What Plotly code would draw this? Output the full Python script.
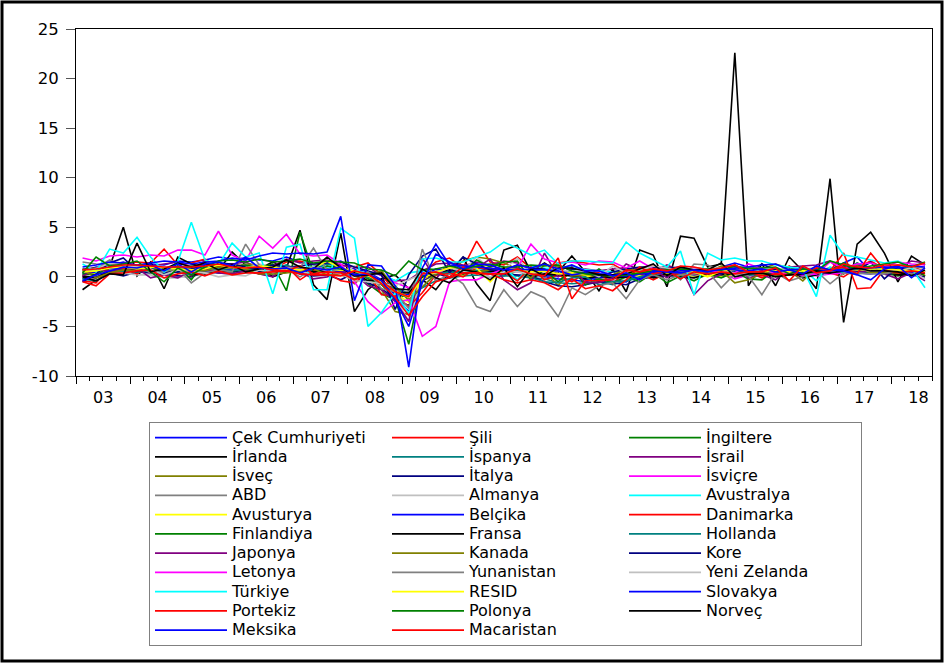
import plotly.graph_objects as go
import pandas as pd

# ---------------- data (quarterly, 2003Q1 .. 2018Q3) ----------------
quarters = [f"{y}Q{q}" for y in range(2003, 2019) for q in range(1, 5)][:63]

cek = [0.6,1.0,1.2,1.5, 1.1,1.3,1.2,1.6, 1.5,1.7,2.0,1.8, 1.9,1.7,1.6,2.0, 1.5,1.3,1.4,1.6, 0.8,0.5,-0.3,-2.0, -3.5,0.0,0.6,0.9, 0.8,1.3,0.6,0.4, 0.9,0.3,0.0,-0.2, -0.3,-0.5,-0.2,-0.4, -0.5,0.3,0.4,0.6, 0.7,0.5,0.6,1.0, 1.4,1.0,0.6,0.5, 0.6,0.7,0.3,0.7, 1.4,2.0,0.5,0.6, 0.4,0.7,0.5]
sili = [0.8,0.9,1.2,1.3, 1.5,1.4,2.8,1.2, 1.4,1.8,0.8,1.3, 1.0,1.2,0.8,1.5, 1.6,1.2,0.9,1.2, 1.0,1.4,0.2,-1.5, -1.8,0.3,1.5,1.9, 0.9,3.6,1.5,1.2, 2.0,0.9,0.6,1.4, 1.6,1.4,1.2,1.3, 0.5,0.9,1.1,0.6, 0.7,0.1,0.6,0.4, 1.2,0.4,0.6,0.3, 1.1,0.2,0.5,0.4, 0.0,0.9,1.6,0.8, 1.2,1.1,0.5]
ingiltere = [0.7,0.9,1.0,1.1, 0.8,1.0,0.5,0.6, 1.1,0.7,0.8,1.1, 0.7,0.5,0.6,0.9, 0.8,0.7,0.6,0.5, 0.3,-0.7,-1.7,-2.3, -1.7,-0.2,0.2,0.4, 0.6,1.0,0.6,0.1, 0.6,0.2,0.4,0.1, 0.3,-0.1,0.8,-0.1, 0.6,0.6,0.8,0.5, 0.9,0.8,0.7,0.8, 0.4,0.5,0.4,0.7, 0.2,0.6,0.5,0.7, 0.4,0.3,0.5,0.4, 0.1,0.4,0.6]
irlanda = [-1.3,-0.3,1.0,5.0, 0.1,1.5,-1.2,2.0, 1.3,1.0,0.6,2.5, 1.2,0.8,1.5,0.9, 4.7,-0.8,-2.3,4.4, -3.5,-1.3,-0.2,0.2, -1.2,-0.3,-1.3,0.5, 2.0,-0.7,-2.4,2.7, 3.2,0.5,1.4,0.5, 2.1,0.5,-1.4,0.8, -1.5,2.7,2.2,-1.0, 4.1,3.9,1.0,1.3, 22.6,-0.9,1.3,-0.9, 2.0,0.6,-1.2,9.9, -4.6,3.3,4.5,2.4, -0.5,2.1,1.2]
ispanya = [0.8,0.7,0.8,0.9, 0.8,0.7,0.8,0.9, 0.9,0.9,0.9,0.9, 1.0,1.0,0.9,1.0, 0.9,0.9,0.8,0.7, 0.4,0.0,-0.7,-1.2, -1.6,-1.1,-0.4,-0.1, 0.1,0.2,0.0,0.1, 0.1,-0.1,-0.2,-0.6, -0.7,-0.6,-0.5,-0.8, -0.4,-0.1,0.1,0.2, 0.4,0.5,0.6,0.7, 0.9,1.0,0.8,0.8, 0.6,0.8,0.8,0.7, 0.7,0.8,0.7,0.7, 0.6,0.6,0.6]
israil = [0.2,0.6,0.9,1.4, 1.2,1.1,1.3,1.5, 1.0,1.4,1.2,1.3, 1.5,0.9,1.1,1.8, 1.4,1.6,1.7,1.2, 0.9,1.0,0.1,-0.4, -0.3,0.6,1.3,1.4, 1.1,1.5,1.2,1.6, 1.4,0.8,0.6,1.1, 0.7,0.8,0.6,0.8, 0.9,0.6,0.5,1.2, 0.6,0.4,0.6,0.9, 0.5,0.6,0.7,0.6, 1.0,1.1,1.2,1.6, 0.3,1.2,0.9,1.0, 1.0,1.6,1.4]
isvec = [0.5,0.6,0.9,0.9, 1.1,1.0,0.7,0.8, 0.7,0.9,1.1,1.0, 1.3,1.2,1.1,1.0, 0.9,0.7,0.6,0.4, 0.1,-0.2,-1.3,-3.5, -3.8,-0.4,0.2,0.5, 1.6,2.0,1.8,1.4, 0.8,0.4,0.6,-0.9, 0.8,0.3,-0.3,-0.2, 0.5,0.4,0.3,0.9, 0.3,0.6,0.5,1.1, 1.0,0.9,0.8,1.3, 0.9,0.5,0.6,0.9, 0.3,1.4,0.7,0.7, 0.7,0.9,0.1]
italya = [-0.2,0.0,0.4,0.1, 0.5,0.4,0.2,0.1, 0.0,0.5,0.4,0.3, 0.8,0.5,0.3,0.9, 0.3,0.1,0.2,-0.3, 0.4,-0.6,-1.2,-2.2, -2.9,-0.4,0.4,-0.1, 0.6,0.5,0.4,0.3, 0.2,0.1,-0.5,-0.9, -1.0,-0.8,-0.5,-0.6, -0.8,-0.2,0.0,0.1, 0.1,0.0,0.1,0.0, 0.3,0.4,0.3,0.3, 0.4,0.1,0.3,0.4, 0.5,0.4,0.4,0.4, 0.3,0.2,0.0]
isvicre = [0.0,-0.1,0.4,0.6, 0.7,0.6,0.3,0.6, 0.6,0.8,0.8,0.9, 0.8,1.0,0.7,1.0, 0.9,0.9,1.0,0.8, 0.6,0.4,0.2,-0.6, -1.1,-0.3,0.5,0.8, 0.7,0.8,0.7,0.8, 0.5,0.3,0.3,0.2, 0.5,-0.1,0.6,0.2, 0.4,0.6,0.5,0.2, 0.5,0.3,0.6,0.5, -0.2,0.2,0.3,0.2, 0.5,0.6,0.1,0.3, 0.4,0.5,0.8,0.9, 0.9,0.8,0.2]
abd = [0.4,0.9,1.7,1.1, 0.6,0.8,0.9,1.0, 1.1,0.5,0.8,0.6, 1.3,0.3,0.1,0.8, 0.0,0.8,0.6,0.6, -0.7,0.5,-0.5,-2.1, -1.4,-0.1,0.3,1.0, 0.4,1.0,0.7,0.5, -0.4,0.7,-0.2,1.1, 0.8,0.4,0.1,0.1, 0.9,0.2,0.8,1.0, -0.3,1.3,1.2,0.5, 0.8,0.6,0.4,0.1, 0.6,0.3,0.7,0.5, 0.5,0.7,0.8,0.9, 0.6,1.0,0.9]
almanya = [-0.3,-0.2,0.4,0.4, 0.2,0.2,-0.1,-0.1, 0.2,0.3,0.6,0.2, 1.0,1.3,1.0,1.0, 0.4,0.5,0.6,0.2, 1.1,-0.5,-0.4,-2.1, -4.5,0.2,0.7,0.8, 0.6,2.0,0.8,0.7, 1.9,0.4,0.4,0.1, 0.4,0.1,0.3,-0.3, -0.2,0.7,0.4,0.4, 0.8,-0.1,0.2,0.7, 0.2,0.5,0.3,0.4, 0.6,0.4,0.2,0.4, 0.9,0.6,0.7,0.6, 0.4,0.5,-0.2]
avustralya = [0.6,0.4,1.2,0.9, 0.8,0.6,0.3,0.6, 0.7,0.8,0.7,0.6, 0.4,0.7,0.5,0.8, 0.8,1.1,1.0,0.8, 0.6,0.4,0.3,-0.4, 0.4,0.6,0.4,0.6, 0.5,0.8,0.6,1.0, -0.3,1.1,0.9,0.8, 1.1,0.7,0.6,0.5, 0.6,0.5,0.7,0.5, 1.0,0.5,0.6,0.5, 0.8,0.2,0.9,0.6, 0.9,0.8,-0.4,1.0, 0.4,0.8,0.8,0.5, 1.0,0.8,0.3]
avusturya = [0.2,0.4,0.5,0.6, 0.8,0.6,0.7,0.5, 0.6,0.7,0.8,0.9, 1.0,0.9,0.8,1.1, 0.9,0.8,0.7,0.6, 0.5,0.2,-0.4,-1.6, -2.6,-0.3,0.5,0.4, 0.2,1.1,0.9,0.7, 1.0,0.3,0.1,0.1, 0.4,0.0,0.0,-0.1, 0.1,0.1,0.3,0.2, 0.2,0.1,0.1,0.0, 0.3,0.3,0.5,0.4, 0.5,0.4,0.6,0.7, 0.8,0.7,0.8,0.7, 0.8,0.5,0.3]
belcika = [0.3,0.5,0.9,0.8, 0.7,0.8,0.6,0.9, 0.4,0.6,0.7,0.8, 0.8,0.7,0.6,0.8, 0.8,0.7,0.6,0.5, 0.4,0.1,-0.4,-1.8, -1.8,0.1,0.8,0.6, 0.5,1.0,0.6,0.6, 0.9,0.3,0.1,0.1, 0.3,-0.3,0.0,-0.1, 0.0,0.3,0.3,0.3, 0.4,0.2,0.4,0.3, 0.5,0.4,0.3,0.4, 0.2,0.5,0.3,0.5, 0.6,0.4,0.3,0.6, 0.4,0.4,0.5]
danimarka = [-0.4,-0.6,1.0,0.9, 0.3,1.2,0.4,0.8, 0.1,1.7,1.0,1.3, 0.6,0.3,0.4,1.1, -0.3,0.6,0.4,-0.4, -0.6,0.4,-1.8,-1.9, -3.0,-1.6,0.2,0.4, 0.0,0.9,0.8,0.5, -0.4,1.0,-0.3,0.2, -0.5,0.4,0.4,-0.7, 0.6,0.3,-0.3,0.4, 0.2,0.3,0.4,0.5, 0.3,0.5,-0.1,0.5, 0.5,0.6,0.7,0.6, 2.4,-1.2,-1.1,0.8, 0.2,0.9,0.1]
finlandiya = [0.3,0.2,1.0,1.2, 0.9,0.8,0.6,1.1, -0.3,1.5,0.9,1.0, 1.2,0.9,1.3,-1.4, 4.5,0.4,1.1,0.8, 0.6,-0.2,-0.8,-2.2, -6.8,0.0,0.3,0.6, 0.4,1.7,1.0,1.5, 1.6,-0.3,0.7,-0.5, 0.8,-0.8,-0.2,-0.6, 0.0,-0.5,0.4,-0.6, 0.1,-0.4,0.3,-0.1, 0.5,-0.2,-0.3,0.7, 1.0,0.4,0.5,0.6, 1.4,0.8,0.4,0.9, 0.8,0.9,0.1]
fransa = [0.1,-0.1,0.6,0.7, 0.8,0.7,0.4,0.8, 0.2,0.3,0.6,0.5, 0.7,1.1,0.0,0.5, 0.7,0.5,0.6,0.3, 0.4,-0.4,-0.3,-1.6, -1.6,-0.1,0.3,0.7, 0.3,0.6,0.5,0.6, 1.0,0.0,0.3,0.2, 0.1,-0.2,0.1,-0.1, 0.0,0.6,-0.1,0.3, 0.0,-0.1,0.3,0.2, 0.4,0.2,0.4,0.3, 0.6,-0.1,0.2,0.5, 0.7,0.6,0.6,0.7, 0.2,0.2,0.4]
hollanda = [-0.2,-0.4,0.4,0.6, 0.5,0.6,0.3,0.5, 0.2,0.9,0.8,0.6, 0.7,0.9,0.8,1.2, 0.6,0.8,1.3,1.0, 0.3,0.0,-0.6,-0.9, -2.4,-1.0,0.3,0.5, 0.4,0.6,0.4,0.4, 0.7,-0.1,-0.5,-0.6, -0.1,0.0,-0.8,-0.5, -0.4,0.0,0.3,0.5, -0.1,0.6,0.3,0.8, 0.4,0.2,0.2,0.3, 0.5,0.6,0.7,0.7, 0.5,1.4,0.7,0.8, 0.5,0.7,0.5]
japonya = [0.1,0.7,0.6,0.7, 0.9,-0.1,0.2,-0.1, 0.6,0.8,0.4,0.3, 0.6,0.3,0.0,1.0, 0.5,-0.2,0.0,0.5, 0.3,-0.9,-1.3,-2.5, -4.5,1.9,-0.2,1.4, 1.2,0.9,1.8,-0.3, -1.3,-0.6,2.4,0.0, 1.0,-0.6,-0.6,-0.1, 1.3,0.7,0.7,-0.1, 1.0,-1.8,-0.4,0.3, 1.2,-0.1,0.2,-0.3, 0.8,0.1,0.3,0.4, 0.9,0.5,0.6,0.3, -0.2,0.4,-0.4]
kanada = [0.7,-0.1,0.4,0.7, 0.6,1.1,0.8,0.6, 0.6,0.6,1.0,0.9, 0.8,0.3,0.3,0.4, 0.6,0.8,0.2,0.2, -0.2,0.2,0.6,-1.1, -2.3,-1.0,0.3,1.1, 0.9,0.5,0.7,0.9, 0.8,-0.1,1.2,1.1, 0.1,0.2,0.1,0.2, 0.8,0.6,0.9,0.9, 0.2,0.9,0.8,0.6, -0.6,-0.3,0.3,0.1, 0.6,-0.4,1.0,0.5, 0.9,1.1,0.4,0.4, 0.4,0.6,0.5]
kore = [-0.5,0.3,1.4,1.9, 0.6,0.7,0.4,0.5, 0.8,1.2,1.4,1.3, 1.0,0.8,1.2,1.0, 1.1,1.3,1.4,1.5, 1.0,0.6,0.2,-3.3, 0.2,2.1,2.8,0.4, 2.0,1.3,0.7,0.6, 1.2,0.9,0.8,0.3, 0.8,0.4,0.0,0.5, 0.8,1.0,1.0,0.9, 1.0,0.6,0.8,0.3, 0.8,0.3,1.3,0.7, 0.5,0.9,0.5,0.4, 1.1,0.6,1.5,-0.2, 1.0,0.6,0.6]
letonya = [1.9,1.6,2.1,2.2, 2.0,2.2,2.1,2.7, 2.7,2.2,4.6,2.2, 1.6,4.1,2.9,4.3, 2.3,2.1,2.2,1.3, -0.5,-2.5,-3.7,-2.6, -2.3,-6.0,-5.0,-0.5, -0.3,-0.3,0.3,0.8, 0.9,3.3,1.8,1.4, 1.5,1.2,1.6,1.5, 0.9,1.6,0.8,0.7, 0.4,0.9,0.6,0.5, 0.4,1.3,0.8,0.3, 0.4,0.2,0.3,1.5, 0.9,1.3,1.4,1.0, 1.5,1.3,1.2]
yunanistan = [1.5,1.3,1.2,1.0, 1.1,0.4,0.5,0.9, -0.6,0.4,0.7,0.5, 3.3,1.2,0.4,1.0, 0.9,2.9,0.6,0.3, 0.1,0.5,-1.2,-1.5, -3.2,2.8,-0.5,0.3, -0.7,-3.0,-3.5,-1.3, -3.0,-1.5,-2.1,-4.0, -1.1,-1.8,-0.9,-0.6, -2.2,-0.3,0.2,-0.3, 0.2,0.3,0.6,-1.1, 0.3,0.1,-1.8,0.4, -0.4,0.0,0.6,-0.7, 0.4,0.4,0.3,0.3, 0.6,0.3,0.5]
yeni_zelanda = [0.6,0.8,1.4,1.2, 1.0,0.8,0.2,0.7, 0.5,0.4,0.0,0.2, 0.1,0.7,0.5,0.9, 0.7,1.0,0.6,0.3, -0.4,-0.5,-0.7,-0.9, -0.3,0.3,0.4,0.9, 0.6,0.3,0.0,0.5, 0.5,0.3,0.7,0.6, 0.6,0.6,0.0,1.1, 0.4,0.7,1.1,0.9, 0.7,0.8,0.8,0.9, 0.3,0.4,0.9,0.9, 0.7,0.8,0.9,0.5, 0.7,0.8,0.6,0.6, 0.6,0.9,0.5]
turkiye = [1.3,0.5,2.8,2.4, 4.0,2.0,0.5,1.5, 5.5,1.7,1.2,3.4, 2.0,2.4,-1.7,3.0, 3.3,-1.3,-1.3,4.9, 3.9,-5.0,-3.6,-1.6, -3.7,1.8,1.9,1.5, 1.5,2.0,2.5,3.5, 2.9,2.2,2.7,1.3, 1.6,1.6,1.5,1.4, 3.5,2.4,1.7,1.0, 2.6,-1.8,2.4,1.7, 1.9,1.6,1.6,1.2, 1.0,0.8,-2.0,4.2, 2.2,2.0,1.7,1.4, 1.6,0.9,-1.1]
resid = [0.5,0.6,0.9,1.0, 0.8,1.0,0.9,0.8, 0.7,0.8,1.2,1.0, 0.9,1.1,1.0,0.8, 0.7,0.9,1.6,0.9, 0.6,0.1,-0.5,-1.5, -2.0,-0.2,0.5,0.9, 1.0,0.9,-0.5,0.9, 0.8,0.5,0.6,0.3, 0.4,0.2,0.3,0.1, 0.3,0.5,0.6,0.4, 0.6,0.5,0.0,0.6, 0.7,0.6,0.5,0.6, 0.5,0.6,0.6,0.7, 0.8,0.7,0.8,0.8, 0.7,0.6,0.6]
slovakya = [1.0,1.2,1.5,1.4, 1.2,1.4,1.6,1.5, 1.3,1.5,1.6,1.9, 1.7,2.1,2.4,2.3, 2.4,2.3,2.5,6.1, -2.4,1.2,1.1,-0.9, -9.1,0.9,3.3,1.2, 1.1,1.0,0.9,0.7, 0.8,0.7,0.7,0.6, 0.2,0.4,0.3,0.2, 0.1,0.3,0.4,0.5, 0.6,0.7,0.7,0.7, 0.9,1.0,1.2,1.3, 0.7,0.8,0.7,0.6, 0.8,0.8,0.9,1.0, 0.9,1.1,1.0]
portekiz = [-0.5,-0.9,0.3,0.4, 0.6,0.7,-0.1,0.3, 0.5,0.1,0.6,0.2, 0.4,0.4,0.5,0.6, 1.1,0.3,0.5,0.4, -0.3,0.2,-0.4,-1.5, -2.0,0.3,0.5,0.0, 1.0,0.3,0.3,-0.3, -0.6,-0.3,-0.6,-1.3, -0.2,-1.2,-0.9,-1.4, -0.3,1.0,0.3,0.6, -0.2,0.5,0.3,0.5, 0.3,0.5,0.1,0.3, 0.2,0.3,0.9,0.7, 1.0,0.3,2.4,0.7, 0.4,0.6,0.4]
polonya = [0.4,2.0,1.1,1.3, 1.6,0.5,-0.5,0.9, 0.2,1.0,1.6,1.7, 1.5,1.8,1.5,1.6, 1.8,1.4,1.6,1.5, 1.4,0.8,0.7,0.1, 1.6,0.7,0.8,1.1, 0.8,1.1,1.3,1.0, 1.0,1.2,1.1,1.2, 0.6,0.3,0.2,0.1, 0.2,0.4,0.6,0.7, 0.8,0.7,0.8,0.7, 1.1,0.8,0.9,1.0, 0.3,0.8,0.6,1.6, 1.2,0.8,1.1,1.3, 1.5,1.0,1.5]
norvec = [0.0,-0.4,0.3,0.2, 3.4,0.5,0.8,1.4, 1.0,1.4,0.7,1.2, 0.5,0.8,1.0,1.7, 1.0,0.8,2.0,0.9, 0.1,0.2,0.4,-1.2, -1.3,0.8,-0.1,-0.6, 0.7,0.5,-0.3,0.9, -1.0,0.8,0.1,0.9, 0.9,0.6,0.2,0.2, 0.3,0.8,1.3,0.1, 1.0,0.7,0.7,1.4, 0.0,0.3,0.4,0.0, 0.2,0.3,0.6,0.4, 0.6,0.9,0.6,0.6, 0.5,0.1,0.7]
meksika = [-0.4,0.2,0.6,1.0, 0.9,1.2,0.6,1.3, 0.5,1.3,1.5,1.1, 2.0,0.9,0.8,0.9, 0.4,0.9,0.7,1.0, 0.2,0.3,-0.4,-2.3, -5.0,-0.6,2.3,1.5, 0.8,1.3,1.2,0.7, 1.2,0.9,1.3,0.8, 1.2,0.6,0.6,0.1, 0.4,-0.3,0.6,0.5, 0.4,0.7,0.5,0.8, 0.7,0.6,0.8,0.5, 0.7,0.3,1.1,0.7, 0.6,0.2,-0.3,0.8, 1.1,-0.1,0.9]
macaristan = [0.7,0.8,1.0,1.2, 1.2,1.1,1.0,1.0, 1.0,1.1,1.3,1.0, 0.9,1.0,0.7,0.6, 0.3,0.2,0.2,0.1, 0.6,0.3,-0.7,-2.1, -3.9,-2.0,-0.5,-0.1, 0.4,0.4,0.3,0.3, 0.8,0.3,0.1,1.9, -2.2,-0.4,-0.4,-0.3, 0.7,0.5,0.8,0.6, 1.1,1.0,0.7,0.9, 1.2,0.5,0.5,0.9, -0.4,1.1,0.4,0.6, 1.3,1.0,0.9,1.2, 1.2,1.0,1.4]

series_names = ["Çek Cumhuriyeti", "Şili", "İngiltere", "İrlanda", "İspanya", "İsrail",
                "İsveç", "İtalya", "İsviçre", "ABD", "Almanya", "Avustralya",
                "Avusturya", "Belçika", "Danimarka", "Finlandiya", "Fransa", "Hollanda",
                "Japonya", "Kanada", "Kore", "Letonya", "Yunanistan", "Yeni Zelanda",
                "Türkiye", "RESID", "Slovakya", "Portekiz", "Polonya", "Norveç",
                "Meksika", "Macaristan"]
series_values = [cek, sili, ingiltere, irlanda, ispanya, israil, isvec, italya, isvicre,
                 abd, almanya, avustralya, avusturya, belcika, danimarka, finlandiya,
                 fransa, hollanda, japonya, kanada, kore, letonya, yunanistan,
                 yeni_zelanda, turkiye, resid, slovakya, portekiz, polonya, norvec,
                 meksika, macaristan]
series_colors = ["#0000FF", "#FF0000", "#008000", "#000000", "#008080", "#800080",
                 "#808000", "#000080", "#FF00FF", "#808080", "#C0C0C0", "#00FFFF",
                 "#FFFF00", "#0000FF", "#FF0000", "#008000", "#000000", "#008080",
                 "#800080", "#808000", "#000080", "#FF00FF", "#808080", "#C0C0C0",
                 "#00FFFF", "#FFFF00", "#0000FF", "#FF0000", "#008000", "#000000",
                 "#0000FF", "#FF0000"]

y_tick_values = [-10, -5, 0, 5, 10, 15, 20, 25]
y_tick_labels = ["-10", "-5", "0", "5", "10", "15", "20", "25"]

for v in series_values:
    assert len(v) == len(quarters), len(v)

# mid-quarter dates
per = pd.PeriodIndex(quarters, freq="Q")
xdates = (per.start_time + (per.end_time - per.start_time) / 2).strftime("%Y-%m-%d").tolist()

W, H = 944, 663
L, R, T, B = 76, 12, 29, 287
PW, PH = W - L - R, H - T - B

fig = go.Figure()
for name, vals, col in zip(series_names, series_values, series_colors):
    fig.add_trace(go.Scatter(
        x=xdates, y=vals, mode="lines",
        name='<span style="font-size:16px">' + name + '</span>',
        line=dict(color=col, width=1.6)))

fig.update_layout(
    width=W, height=H,
    margin=dict(l=L, r=R, t=T, b=B),
    paper_bgcolor="white", plot_bgcolor="white",
    font=dict(family="DejaVu Sans", size=16, color="black"),
    xaxis=dict(type="date", range=["2003-01-01", "2018-10-01"],
               tick0="2003-01-01", dtick="M12", tickformat="%y",
               ticklabelmode="period", ticks="outside", ticklen=7,
               ticklabelstandoff=0,
               tickcolor="black", showline=True, linecolor="black", linewidth=1,
               mirror=True, showgrid=False, zeroline=False,
               minor=dict(tick0="2003-01-01", dtick="M3", ticks="outside",
                          ticklen=4, tickcolor="black", showgrid=False)),
    yaxis=dict(range=[-10, 25], tickmode="array", tickvals=y_tick_values,
               ticktext=y_tick_labels, ticks="outside", ticklen=9,
               ticklabelstandoff=4, tickfont=dict(size=16.5),
               tickcolor="#555", showline=True, linecolor="black", linewidth=1,
               mirror=True, showgrid=False, zeroline=False),
    legend=dict(orientation="h", x=(149 - L) / PW, y=-(422 - (H - B)) / PH,
                xanchor="left", yanchor="top", entrywidth=150,
                entrywidthmode="pixels", itemwidth=72,
                bordercolor="#808080", borderwidth=1, bgcolor="white",
                font=dict(family="DejaVu Sans", size=12.5), traceorder="normal"),
    showlegend=True,
)

# outer black frame around the whole image
fig.add_shape(type="rect", xref="paper", yref="paper",
              x0=(2 - L) / PW, x1=(W - 2 - L) / PW,
              y0=(H - B - (H - 2)) / PH, y1=(H - B - 2) / PH,
              line=dict(color="black", width=3), fillcolor="rgba(0,0,0,0)",
              layer="above")

fig.write_html("out.html")
